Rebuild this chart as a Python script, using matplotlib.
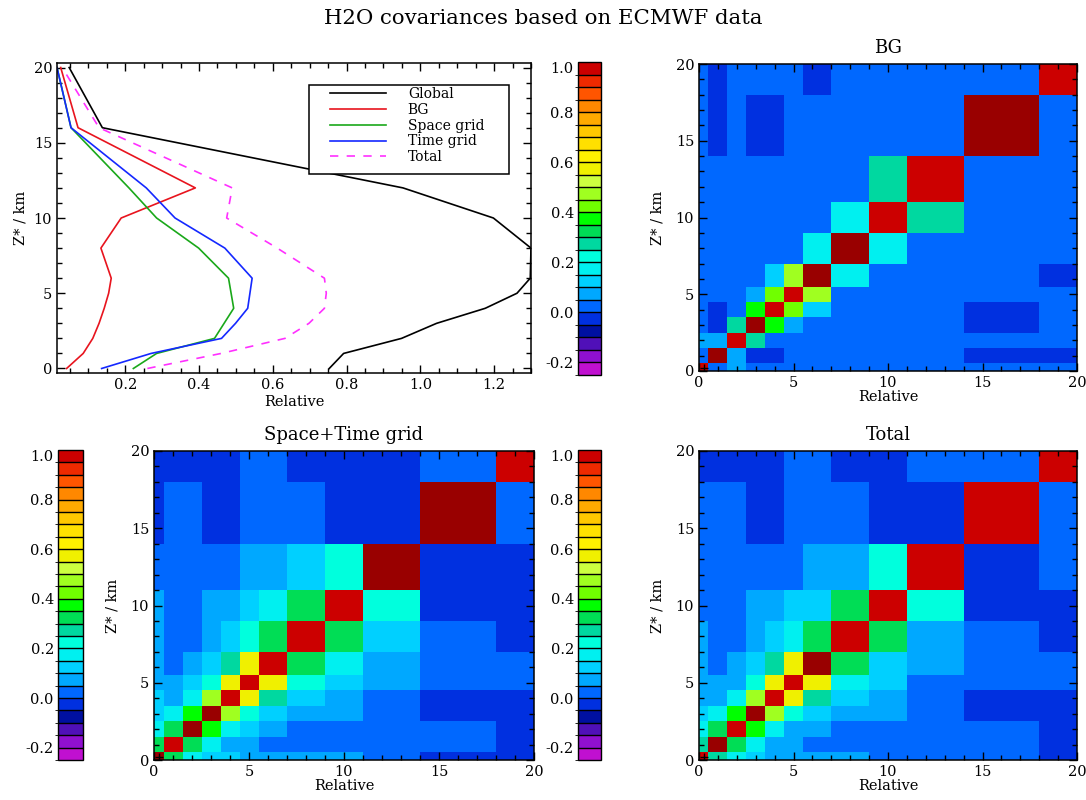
import numpy as np
import matplotlib
matplotlib.use("Agg")
import matplotlib.pyplot as plt
from matplotlib.colors import ListedColormap, BoundaryNorm
from matplotlib.ticker import MultipleLocator
from matplotlib.patches import Rectangle

# ---------------- data ----------------
levels = [0, 1, 2, 3, 4, 5, 6, 8, 10, 12, 16, 20]

prof_global = [0.753, 0.792, 0.949, 1.044, 1.176, 1.262, 1.298, 1.300, 1.198, 0.953, 0.138, 0.048]
prof_bg     = [0.041, 0.086, 0.112, 0.129, 0.143, 0.155, 0.162, 0.134, 0.189, 0.390, 0.072, 0.025]
prof_space  = [0.222, 0.285, 0.442, 0.468, 0.494, 0.487, 0.480, 0.399, 0.285, 0.210, 0.053, 0.015]
prof_time   = [0.136, 0.270, 0.461, 0.499, 0.532, 0.538, 0.544, 0.470, 0.335, 0.257, 0.053, 0.015]
prof_total  = [0.260, 0.460, 0.633, 0.698, 0.740, 0.745, 0.740, 0.612, 0.475, 0.490, 0.129, 0.029]

series_names = ["Global", "BG", "Space grid", "Time grid", "Total"]

# correlation matrices, rows from lowest level (z=0) upward
corr_bg = [
    [0.99, 0.02, 0.07, 0.02, 0.02, 0.02, 0.02, 0.02, 0.02, 0.02, 0.02, 0.02],
    [0.02, 1.00, 0.07, -0.02, -0.02, 0.02, 0.02, 0.02, 0.02, 0.02, -0.02, -0.02],
    [0.07, 0.07, 0.99, 0.27, 0.02, 0.02, 0.02, 0.02, 0.02, 0.02, 0.02, 0.02],
    [0.02, -0.02, 0.27, 1.00, 0.37, 0.07, 0.02, 0.02, 0.02, 0.02, -0.02, 0.02],
    [0.02, -0.02, 0.02, 0.37, 0.99, 0.42, 0.12, 0.02, 0.02, 0.02, -0.02, 0.02],
    [0.02, 0.02, 0.02, 0.07, 0.42, 0.99, 0.47, 0.02, 0.02, 0.02, 0.02, 0.02],
    [0.02, 0.02, 0.02, 0.02, 0.12, 0.47, 1.00, 0.17, 0.02, 0.02, 0.02, -0.02],
    [0.02, 0.02, 0.02, 0.02, 0.02, 0.02, 0.17, 1.00, 0.17, 0.02, 0.02, 0.02],
    [0.02, 0.02, 0.02, 0.02, 0.02, 0.02, 0.02, 0.17, 0.99, 0.27, 0.02, 0.02],
    [0.02, 0.02, 0.02, 0.02, 0.02, 0.02, 0.02, 0.02, 0.27, 0.99, 0.02, 0.02],
    [0.02, -0.02, 0.02, -0.02, -0.02, 0.02, 0.02, 0.02, 0.02, 0.02, 1.00, 0.02],
    [0.02, -0.02, 0.02, 0.02, 0.02, 0.02, -0.02, 0.02, 0.02, 0.02, 0.02, 0.99],
]

corr_spacetime = [
    [1.00, 0.32, 0.17, 0.12, 0.12, 0.07, 0.07, 0.07, 0.07, 0.02, -0.02, -0.02],
    [0.32, 0.99, 0.32, 0.17, 0.07, 0.07, 0.02, 0.02, 0.02, 0.02, 0.02, -0.02],
    [0.17, 0.32, 1.00, 0.37, 0.17, 0.12, 0.07, 0.02, 0.02, 0.02, 0.02, -0.02],
    [0.12, 0.17, 0.37, 1.00, 0.47, 0.22, 0.12, 0.07, 0.07, 0.02, -0.02, -0.02],
    [0.12, 0.07, 0.17, 0.47, 0.99, 0.58, 0.27, 0.12, 0.07, 0.02, -0.02, -0.02],
    [0.07, 0.07, 0.12, 0.22, 0.58, 0.99, 0.58, 0.22, 0.12, 0.07, 0.02, 0.02],
    [0.07, 0.02, 0.07, 0.12, 0.27, 0.58, 0.99, 0.32, 0.17, 0.07, 0.02, 0.02],
    [0.07, 0.02, 0.02, 0.07, 0.12, 0.22, 0.32, 0.99, 0.32, 0.12, 0.02, -0.02],
    [0.07, 0.02, 0.02, 0.07, 0.07, 0.12, 0.17, 0.32, 0.99, 0.22, -0.02, -0.02],
    [0.02, 0.02, 0.02, 0.02, 0.02, 0.07, 0.07, 0.12, 0.22, 1.00, -0.02, -0.02],
    [-0.02, 0.02, 0.02, -0.02, -0.02, 0.02, 0.02, 0.02, -0.02, -0.02, 1.00, 0.02],
    [-0.02, -0.02, -0.02, -0.02, -0.02, 0.02, 0.02, -0.02, -0.02, -0.02, 0.02, 0.99],
]

corr_total = [
    [0.99, 0.27, 0.17, 0.12, 0.07, 0.07, 0.07, 0.07, 0.02, 0.02, 0.02, -0.02],
    [0.27, 1.00, 0.32, 0.17, 0.07, 0.07, 0.02, 0.02, 0.02, 0.02, 0.02, -0.02],
    [0.17, 0.32, 0.99, 0.37, 0.17, 0.07, 0.07, 0.02, 0.02, 0.02, 0.02, -0.02],
    [0.12, 0.17, 0.37, 1.00, 0.47, 0.22, 0.12, 0.07, 0.07, 0.02, -0.02, -0.02],
    [0.07, 0.07, 0.17, 0.47, 0.99, 0.58, 0.27, 0.12, 0.07, 0.02, -0.02, -0.02],
    [0.07, 0.07, 0.07, 0.22, 0.58, 0.99, 0.58, 0.17, 0.12, 0.02, 0.02, 0.02],
    [0.07, 0.02, 0.07, 0.12, 0.27, 0.58, 1.00, 0.32, 0.12, 0.07, 0.02, 0.02],
    [0.07, 0.02, 0.02, 0.07, 0.12, 0.17, 0.32, 0.99, 0.32, 0.07, 0.02, -0.02],
    [0.02, 0.02, 0.02, 0.07, 0.07, 0.12, 0.12, 0.32, 0.99, 0.22, -0.02, -0.02],
    [0.02, 0.02, 0.02, 0.02, 0.02, 0.02, 0.07, 0.07, 0.22, 0.99, -0.02, 0.02],
    [0.02, 0.02, 0.02, -0.02, -0.02, 0.02, 0.02, 0.02, -0.02, -0.02, 0.99, 0.02],
    [-0.02, -0.02, -0.02, -0.02, -0.02, 0.02, 0.02, -0.02, -0.02, 0.02, 0.02, 0.99],
]

cbar_colors = [
    "#c010d0", "#9010d0", "#5010b8", "#0010a0", "#0030e0", "#0068ff", "#00a8ff",
    "#00d0ff", "#00f0f0", "#00ffdd", "#00d8a0", "#00dd55", "#00ff00", "#70ff00",
    "#a0ff20", "#ccff40", "#f0f000", "#fff000", "#ffe000", "#ffc800", "#ffaa00",
    "#ff8800", "#ff5500", "#ee2a00", "#cc0000",
]
cbar_ticks = [-0.2, 0.0, 0.2, 0.4, 0.6, 0.8, 1.0]
cbar_tick_labels = ["-0.2", "0.0", "0.2", "0.4", "0.6", "0.8", "1.0"]

# ---------------- style ----------------
plt.rcParams["font.family"] = ["DejaVu Serif"]
plt.rcParams["font.size"] = 10.5
FS_TICK = 10.5
FS_LAB = 10.5

W, H = 1086, 800
fig = plt.figure(figsize=(W / 100, H / 100), dpi=100)


def ax_px(x0, y0, x1, y1):
    return fig.add_axes([x0 / W, 1 - y1 / H, (x1 - x0) / W, (y1 - y0) / H])


def style_ticks(ax):
    ax.tick_params(which="both", direction="in", top=True, right=True,
                   labelsize=FS_TICK, width=1.0)
    ax.tick_params(which="major", length=6)
    ax.tick_params(which="minor", length=3.5)
    for s in ax.spines.values():
        s.set_linewidth(1.1)


# colormap
cmap = ListedColormap(cbar_colors)
cmap.set_over("#990000")
cmap.set_under("#c010d0")
bounds = np.linspace(-0.25, 1.0, len(cbar_colors) + 1)
norm = BoundaryNorm(bounds, cmap.N)

lv = np.array(levels, dtype=float)
edges = np.concatenate([[lv[0]], (lv[:-1] + lv[1:]) / 2, [lv[-1]]])

# ---------------- profile panel ----------------
PX0, PY0, PX1, PY1 = 57, 63, 531, 373
axp = ax_px(PX0, PY0, PX1, PY1)
colors = ["black", "#e8141e", "#1aa81a", "#1428ff", "#ff30ff"]
styles = ["-", "-", "-", "-", (0, (5, 5))]
for vals, name, c, ls in zip([prof_global, prof_bg, prof_space, prof_time, prof_total],
                             series_names, colors, styles):
    axp.plot(vals, levels, color=c, lw=1.2, linestyle=ls, label=name)
axp.set_xlim(0.015, 1.3)
axp.set_ylim(-0.3, 20.3)
axp.xaxis.set_major_locator(MultipleLocator(0.2))
axp.xaxis.set_minor_locator(MultipleLocator(0.05))
axp.yaxis.set_major_locator(MultipleLocator(5))
axp.yaxis.set_minor_locator(MultipleLocator(1))
style_ticks(axp)
axp.set_xlabel("Relative", fontsize=FS_LAB, labelpad=2)
axp.set_ylabel("Z* / km", fontsize=FS_LAB, labelpad=4)


def fx(px):
    return (px - PX0) / (PX1 - PX0)


def fy(py):
    return (PY1 - py) / (PY1 - PY0)


# legend frame (box drawn separately to get IDL-like wide margins)
frame = Rectangle((fx(309), fy(174)), fx(509) - fx(309), fy(85) - fy(174),
                  transform=axp.transAxes, facecolor="white", edgecolor="black",
                  lw=1.1, zorder=4)
axp.add_patch(frame)
leg = axp.legend(loc="upper left", bbox_to_anchor=(fx(330), fy(87)), fontsize=10,
                 frameon=False, handlelength=4.0, handletextpad=1.6,
                 labelspacing=0.13, borderpad=0.0, borderaxespad=0.0)
leg.set_zorder(5)

fig.text(0.5, 1 - 18 / H, "H2O covariances based on ECMWF data",
         ha="center", va="center", fontsize=15.3)


# ---------------- matrix panels ----------------
def matrix_panel(rect, data, title):
    ax = ax_px(*rect)
    m = ax.pcolormesh(edges, edges, np.array(data), cmap=cmap, norm=norm,
                      shading="flat")
    ax.plot([lv[0] + 0.25], [lv[0] + 0.2], marker="+", color="black", ms=6, mew=1.0)
    ax.set_xlim(0, 20)
    ax.set_ylim(0, 20)
    ax.xaxis.set_major_locator(MultipleLocator(5))
    ax.xaxis.set_minor_locator(MultipleLocator(1))
    ax.yaxis.set_major_locator(MultipleLocator(5))
    ax.yaxis.set_minor_locator(MultipleLocator(1))
    style_ticks(ax)
    ax.set_xlabel("Relative", fontsize=FS_LAB, labelpad=0)
    ax.set_ylabel("Z* / km", fontsize=FS_LAB, labelpad=8)
    ax.set_title(title, fontsize=13, pad=8)
    return m


def colorbar_panel(rect, mappable):
    cax = ax_px(*rect)
    cb = fig.colorbar(mappable, cax=cax, drawedges=True, ticks=cbar_ticks)
    cb.ax.set_yticklabels(cbar_tick_labels)
    cax.yaxis.set_ticks_position("left")
    cax.yaxis.set_label_position("left")
    cax.tick_params(length=0, labelsize=FS_TICK, pad=3)
    cb.outline.set_linewidth(1.0)
    cb.dividers.set_linewidth(1.0)
    cb.dividers.set_color("black")
    cax.get_yticklabels()[-1].set_verticalalignment("top")
    return cb


m1 = matrix_panel((699, 64, 1077, 371), corr_bg, "BG")
colorbar_panel((578, 62, 601, 375), m1)

m2 = matrix_panel((154, 451, 534, 760), corr_spacetime, "Space+Time grid")
colorbar_panel((58, 450, 83, 760), m2)

m3 = matrix_panel((699, 451, 1077, 760), corr_total, "Total")
colorbar_panel((578, 450, 601, 760), m3)

fig.savefig("out.png", dpi=100)
